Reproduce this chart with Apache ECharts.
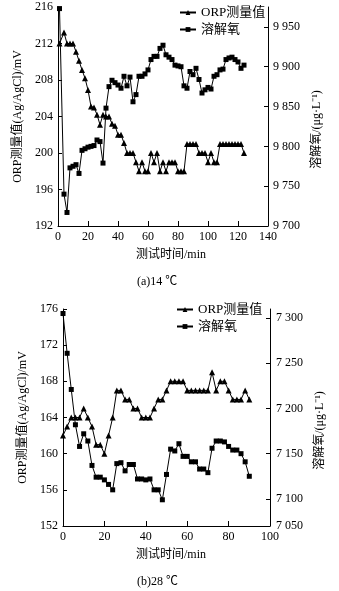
<!DOCTYPE html>
<html>
<head>
<meta charset="utf-8">
<script src="https://cdn.jsdelivr.net/npm/echarts@6/dist/echarts.min.js"></script>
<style>
html,body{margin:0;padding:0;background:#fff;}
#c{width:339px;height:591px;}
</style>
</head>
<body>
<div id="c"></div>
<script>
// ---- chart (a) 14 ℃ ----
const timeA = [1,4,6,8,10,12,14,16,18,20,22,24,26,28,30,32,34,36,38,40,42,44,46,48,50,52,54,56,58,60,62,64,66,68,70,72,74,76,78,80,82,84,86,88,90,92,94,96,98,100,102,104,106,108,110,112,114,116,118,120,122,124];
const orpA = [212,213.2,212,212,212,211.1,210.1,209.1,208.2,206.9,205.1,205,204.2,203.1,204.2,204,204,203.2,203,202,202,201.1,200,200,200,199,198,199,198,198,200,199,200,198,199,198,199,199,199,198,198,198,201,201,201,201,200,200,200,199,200,199,199,201,201,201,201,201,201,201,201,200];
const doA = [9973,9740,9717,9773,9775,9777,9766,9795,9797,9799,9800,9801,9808,9806,9779,9848,9875,9883,9880,9877,9873,9888,9876,9887,9856,9865,9888,9888,9891,9896,9909,9913,9913,9923,9927,9915,9912,9909,9902,9901,9900,9876,9873,9894,9890,9898,9884,9867,9871,9874,9872,9888,9890,9896,9897,9909,9911,9912,9909,9906,9898,9902];
// ---- chart (b) 28 ℃ ----
const timeB = [0,2,4,6,8,10,12,14,16,18,20,22,24,26,28,30,32,34,36,38,40,42,44,46,48,50,52,54,56,58,60,62,64,66,68,70,72,74,76,78,80,82,84,86,88,90];
const orpB = [162,163,164,164,164,165,164,163,161,161,160,162,164,167,167,166,166,165,165,164,164,164,165,166,166,167,168,168,168,168,167,167,167,167,167,167,169,167,168,168,167,166,166,166,167,166];
const doB = [7305,7261,7221,7182,7158,7172,7164,7137,7124,7124,7121,7116,7110,7139,7140,7131,7138,7138,7122,7122,7121,7122,7110,7110,7099,7127,7155,7153,7161,7147,7147,7141,7141,7133,7133,7129,7156,7164,7164,7163,7158,7154,7154,7150,7141,7125];

const rightTicksA = [9700,9750,9800,9850,9900,9950];
const rightTicksB = [7070,7100,7150,7200,7250,7300];
const rightLabelsB = ['7 050','7 100','7 150','7 200','7 250','7 300'];

const names = ['ORP测量值','溶解氧'];
const axisNameY = 'ORP测量值(Ag/AgCl)/mV';
const axisNameR = '溶解氧/(μg·L⁻¹)';
const axisNameX = '测试时间/min';
const captions = ['(a)14 ℃','(b)28 ℃'];

const FONT = "'Liberation Serif','Noto Sans CJK SC',serif";
const pair = (t, v) => t.map((x, i) => [x, v[i]]);
const fmtSpace = v => { const s = String(Math.round(v)); return s.length > 3 ? s.slice(0, s.length-3) + ' ' + s.slice(-3) : s; };

const black = '#000';
function xAx(grid, max, padLeft) {
  return {
    type: 'value', gridIndex: grid, min: 0, max: max, interval: 20,
    axisLine: {show: true, lineStyle: {color: black, width: 1}},
    axisTick: {show: true, inside: true, length: 5, lineStyle: {color: black}},
    splitLine: {show: false},
    axisLabel: {color: black, fontSize: 12, fontFamily: FONT, margin: 5},
    name: axisNameX, nameLocation: 'middle', nameGap: 23,
    nameTextStyle: {color: black, fontSize: 12, fontFamily: FONT, padding: [0, 0, 0, padLeft]}
  };
}
function yLeft(grid, min, max, gap) {
  return {
    type: 'value', gridIndex: grid, position: 'left', min: min, max: max, interval: 4,
    axisLine: {show: true, lineStyle: {color: black, width: 1}},
    axisTick: {show: true, inside: true, length: 4, lineStyle: {color: black}},
    splitLine: {show: false},
    axisLabel: {color: black, fontSize: 12, fontFamily: FONT, margin: 5},
    name: axisNameY, nameLocation: 'middle', nameGap: gap,
    nameTextStyle: {color: black, fontSize: 12, fontFamily: FONT}
  };
}
function yRight(grid, min, max, ticks, labels, margin) {
  return {
    type: 'value', gridIndex: grid, position: 'right', min: min, max: max,
    axisLine: {show: true, lineStyle: {color: black, width: 1}},
    axisTick: {show: true, inside: true, length: 4, lineStyle: {color: black}, customValues: ticks},
    splitLine: {show: false},
    axisLabel: {color: black, fontSize: 12, fontFamily: FONT, margin: margin, customValues: ticks,
      formatter: v => (labels ? labels[ticks.indexOf(v)] : null) || fmtSpace(v)},
    name: axisNameR, nameLocation: 'middle', nameGap: 41, nameRotate: 90,
    nameTextStyle: {color: black, fontSize: 12, fontFamily: FONT, padding: [0, 26, 0, 0]}
  };
}

const chart = echarts.init(document.getElementById('c'), null, {renderer: 'canvas'});
const lineSeries = (name, xi, yi, data, sym, size) => ({
  name: name, type: 'line', xAxisIndex: xi, yAxisIndex: yi, data: data,
  symbol: sym, symbolSize: size, showAllSymbol: true,
  lineStyle: {color: black, width: 1}, itemStyle: {color: black},
  emphasis: {disabled: true}, animation: false
});

chart.setOption({
  backgroundColor: '#fff',
  animation: false,
  title: [
    {text: captions[0], left: 137, top: 276, textStyle: {fontSize: 12, fontWeight: 'normal', color: black, fontFamily: FONT}, padding: 0},
    {text: captions[1], left: 137, top: 576, textStyle: {fontSize: 12, fontWeight: 'normal', color: black, fontFamily: FONT}, padding: 0}
  ],
  legend: [
    {data: names, orient: 'vertical', left: 179, top: 6, itemWidth: 16, itemHeight: 6, itemGap: 4, padding: 0,
     textStyle: {fontSize: 13, color: black, fontFamily: FONT}, selectedMode: false},
    {data: names, orient: 'vertical', left: 176, top: 303, itemWidth: 16, itemHeight: 6, itemGap: 4, padding: 0,
     textStyle: {fontSize: 13, color: black, fontFamily: FONT}, selectedMode: false}
  ],
  grid: [
    {left: 58, top: 7, width: 210, height: 219},
    {left: 63, top: 309, width: 207, height: 217}
  ],
  xAxis: [xAx(0, 140, 16), xAx(1, 100, 9)],
  yAxis: [
    yLeft(0, 192, 216, 29),
    yRight(0, 9700, 9975, rightTicksA, null, 5),
    yLeft(1, 152, 176, 31),
    yRight(1, 7070, 7310, rightTicksB, rightLabelsB, 6)
  ],
  series: [
    lineSeries(names[0], 0, 0, pair(timeA, orpA), 'triangle', 6),
    lineSeries(names[1], 0, 1, pair(timeA, doA), 'rect', 5),
    lineSeries(names[0], 1, 2, pair(timeB, orpB), 'triangle', 6),
    lineSeries(names[1], 1, 3, pair(timeB, doB), 'rect', 5)
  ]
});
</script>
</body>
</html>
